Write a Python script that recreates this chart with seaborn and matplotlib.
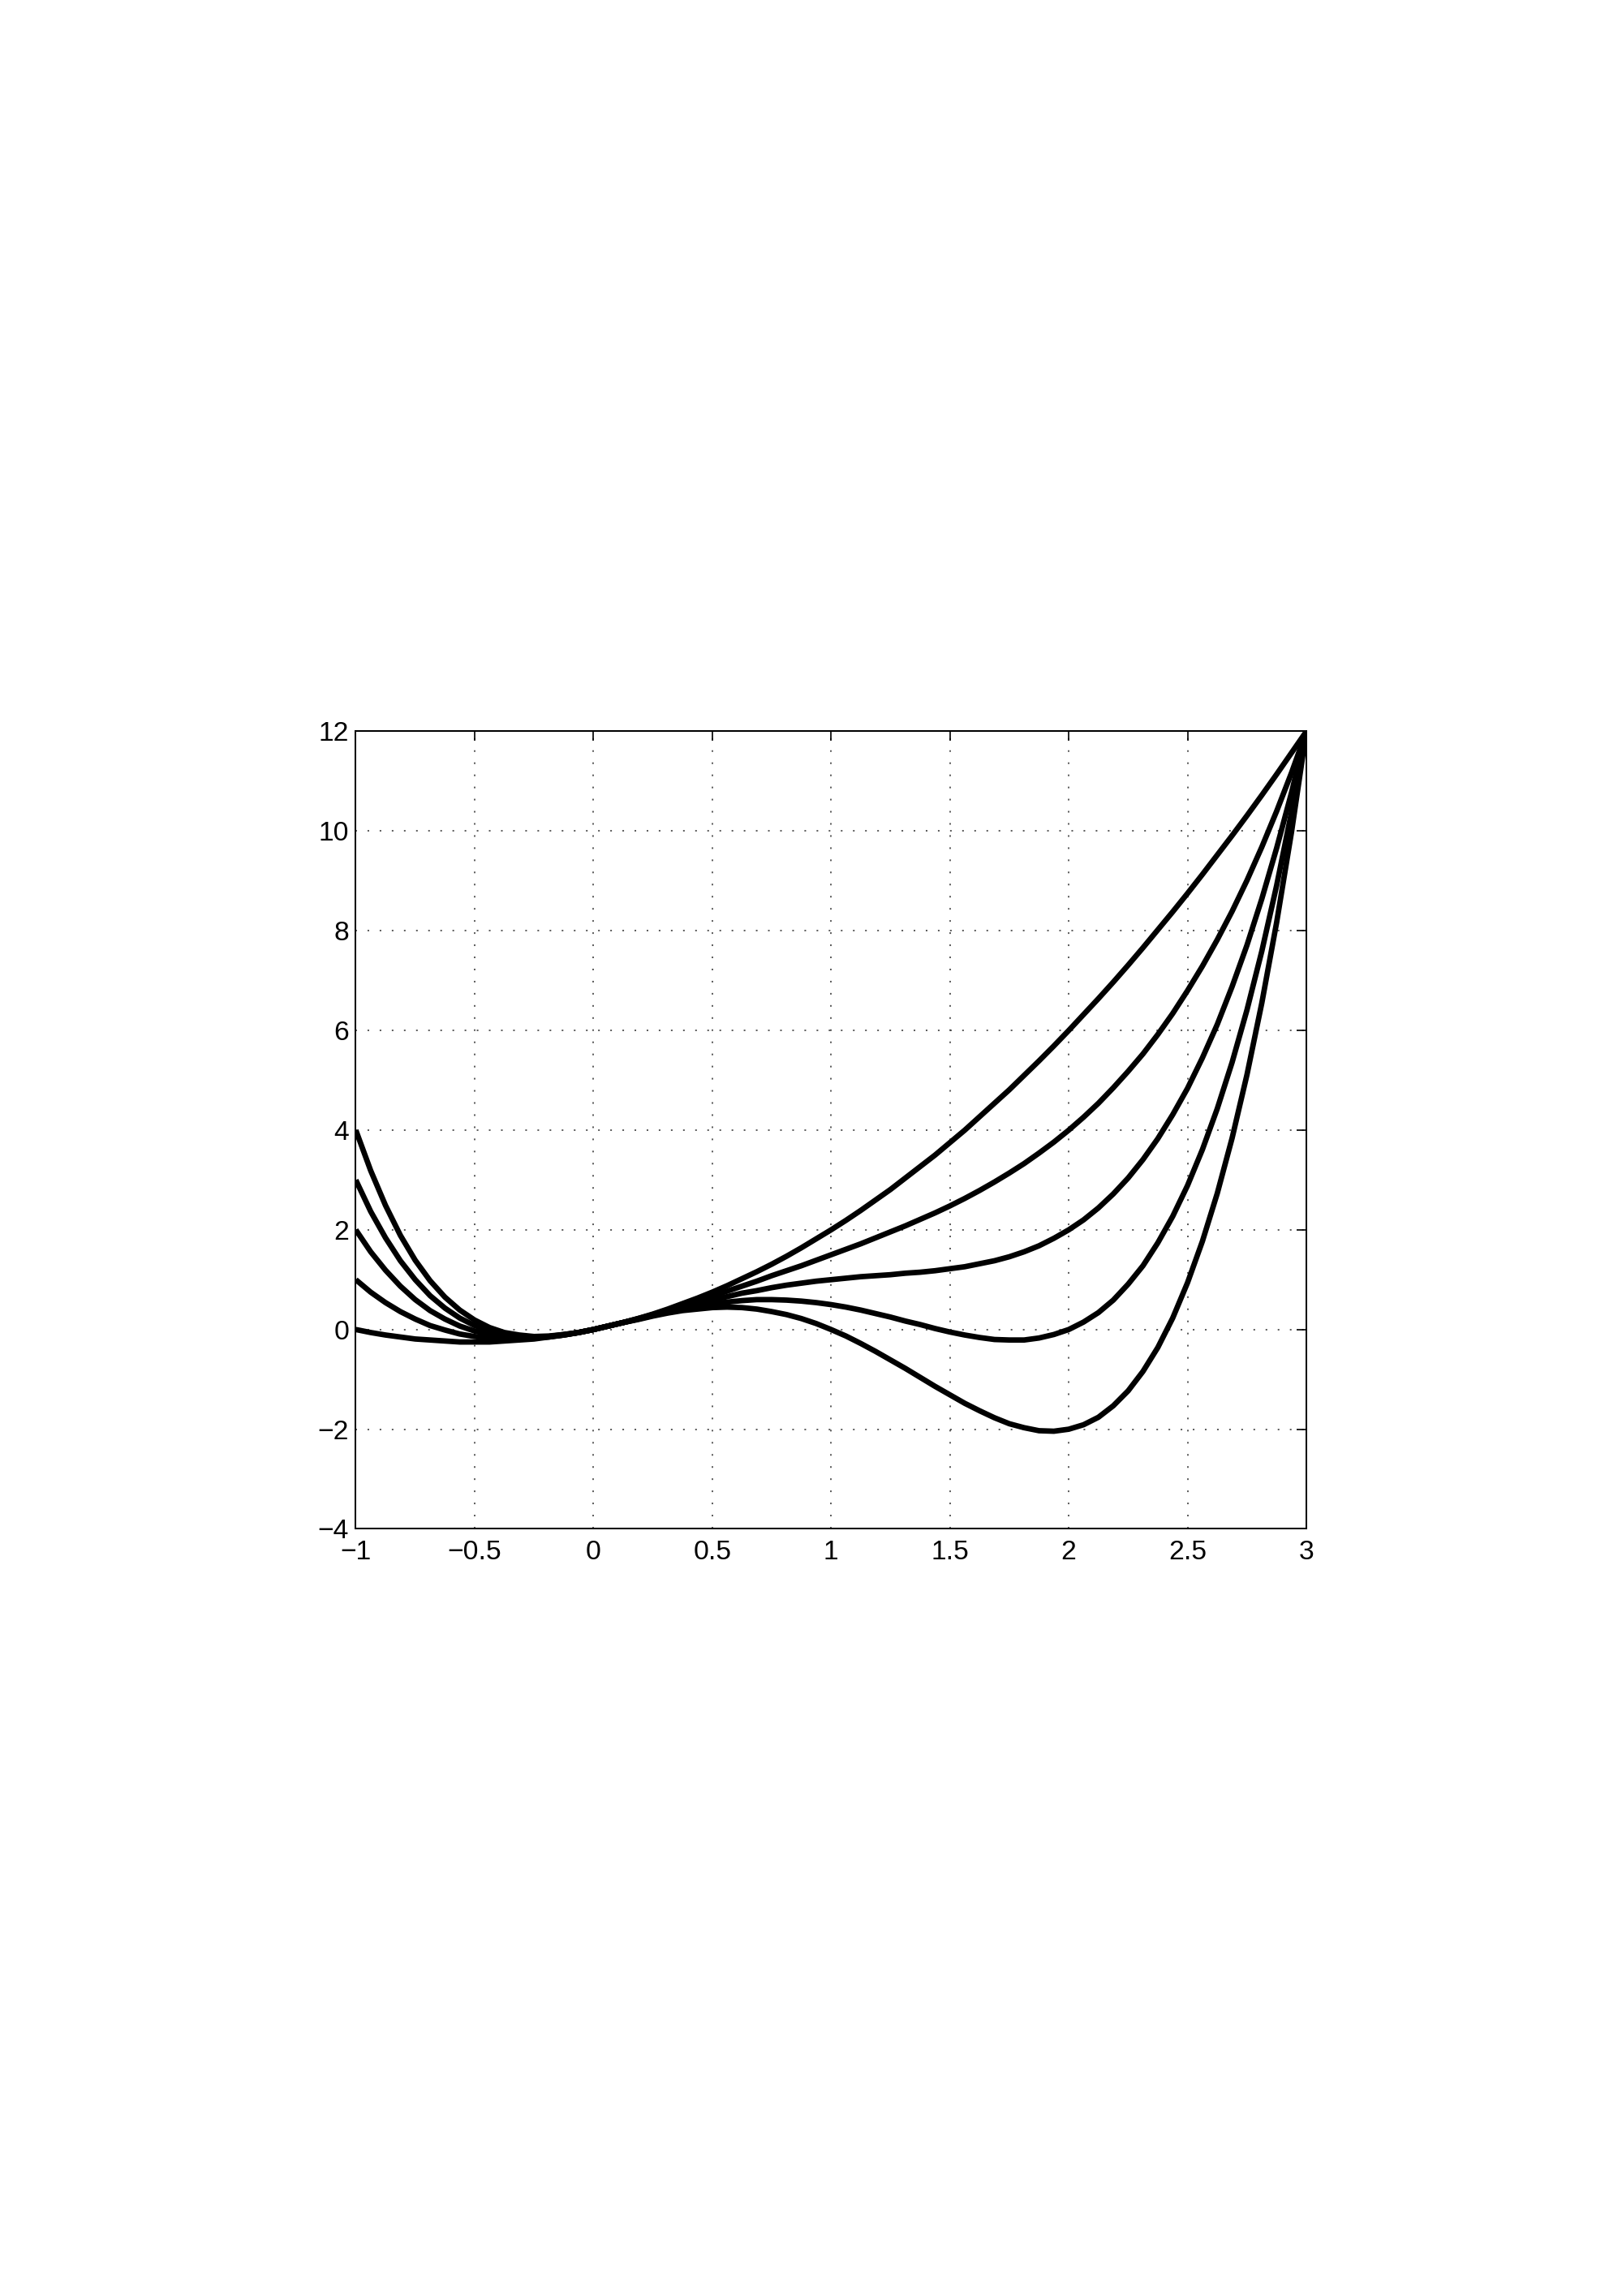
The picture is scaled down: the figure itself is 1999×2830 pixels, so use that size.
import numpy as np
import pandas as pd
import matplotlib
matplotlib.use('Agg')
import matplotlib.pyplot as plt
import seaborn as sns

x_vals = [-1.0, -0.9375, -0.875, -0.8125, -0.75, -0.6875, -0.625, -0.5625,
          -0.5, -0.4375, -0.375, -0.3125, -0.25, -0.1875, -0.125, -0.0625, 0.0,
          0.0625, 0.125, 0.1875, 0.25, 0.3125, 0.375, 0.4375,
          0.5, 0.5625, 0.625, 0.6875, 0.75, 0.8125, 0.875, 0.9375, 1.0,
          1.0625, 1.125, 1.1875, 1.25, 1.3125, 1.375, 1.4375,
          1.5, 1.5625, 1.625, 1.6875, 1.75, 1.8125, 1.875, 1.9375, 2.0,
          2.0625, 2.125, 2.1875, 2.25, 2.3125, 2.375, 2.4375,
          2.5, 2.5625, 2.625, 2.6875, 2.75, 2.8125, 2.875, 2.9375, 3.0]

curve_0 = [0.00, -0.06, -0.11, -0.15, -0.19, -0.21, -0.23, -0.25,
           -0.25, -0.25, -0.23, -0.21, -0.19, -0.15, -0.11, -0.06, 0.00,
           0.07, 0.14, 0.22, 0.31, 0.41, 0.52, 0.63,
           0.75, 0.88, 1.02, 1.16, 1.31, 1.47, 1.64, 1.82, 2.00,
           2.19, 2.39, 2.60, 2.81, 3.04, 3.27, 3.50,
           3.75, 4.00, 4.27, 4.54, 4.81, 5.10, 5.39, 5.69, 6.00,
           6.32, 6.64, 6.97, 7.31, 7.66, 8.02, 8.38,
           8.75, 9.13, 9.52, 9.91, 10.31, 10.72, 11.14, 11.57, 12.00]
curve_1 = [1.00, 0.75, 0.54, 0.36, 0.21, 0.08, -0.01, -0.09,
           -0.14, -0.17, -0.19, -0.19, -0.17, -0.15, -0.11, -0.06, 0.00,
           0.07, 0.14, 0.22, 0.30, 0.39, 0.48, 0.58,
           0.67, 0.77, 0.87, 0.97, 1.08, 1.18, 1.28, 1.39, 1.50,
           1.61, 1.72, 1.84, 1.96, 2.08, 2.21, 2.34,
           2.48, 2.63, 2.79, 2.96, 3.14, 3.33, 3.54, 3.76, 4.00,
           4.26, 4.54, 4.85, 5.18, 5.53, 5.92, 6.34,
           6.80, 7.29, 7.82, 8.39, 9.01, 9.68, 10.40, 11.17, 12.00]
curve_2 = [2.00, 1.56, 1.19, 0.87, 0.60, 0.38, 0.21, 0.07,
           -0.03, -0.10, -0.15, -0.16, -0.16, -0.14, -0.11, -0.06, 0.00,
           0.07, 0.14, 0.21, 0.29, 0.37, 0.45, 0.52,
           0.59, 0.66, 0.73, 0.78, 0.84, 0.89, 0.93, 0.97, 1.00,
           1.03, 1.06, 1.08, 1.10, 1.13, 1.15, 1.18,
           1.22, 1.26, 1.32, 1.38, 1.46, 1.56, 1.68, 1.83, 2.00,
           2.20, 2.44, 2.72, 3.04, 3.41, 3.83, 4.31,
           4.84, 5.45, 6.12, 6.88, 7.71, 8.64, 9.66, 10.77, 12.00]
curve_3 = [3.00, 2.37, 1.84, 1.38, 1.00, 0.68, 0.43, 0.23,
           0.08, -0.03, -0.10, -0.14, -0.15, -0.14, -0.10, -0.06, 0.00,
           0.07, 0.14, 0.21, 0.28, 0.35, 0.41, 0.47,
           0.52, 0.55, 0.58, 0.60, 0.60, 0.59, 0.57, 0.54, 0.50,
           0.45, 0.39, 0.32, 0.25, 0.17, 0.10, 0.02,
           -0.05, -0.11, -0.16, -0.20, -0.21, -0.21, -0.17, -0.10, 0.00,
           0.15, 0.34, 0.59, 0.91, 1.28, 1.74, 2.27,
           2.89, 3.61, 4.43, 5.36, 6.41, 7.59, 8.91, 10.38, 12.00]
curve_4 = [4.00, 3.19, 2.49, 1.89, 1.39, 0.98, 0.65, 0.39,
           0.19, 0.04, -0.06, -0.11, -0.14, -0.13, -0.10, -0.06, 0.00,
           0.07, 0.14, 0.20, 0.27, 0.33, 0.38, 0.41,
           0.44, 0.45, 0.44, 0.41, 0.36, 0.30, 0.22, 0.12, 0.00,
           -0.13, -0.28, -0.44, -0.61, -0.78, -0.96, -1.14,
           -1.31, -1.48, -1.63, -1.77, -1.89, -1.97, -2.03, -2.04, -2.00,
           -1.91, -1.76, -1.53, -1.23, -0.84, -0.36, 0.23,
           0.94, 1.77, 2.73, 3.84, 5.11, 6.55, 8.17, 9.98, 12.00]

x_ticks = [-1, -0.5, 0, 0.5, 1, 1.5, 2, 2.5, 3]
x_tick_labels = ['\u22121', '\u22120.5', '0', '0.5', '1', '1.5', '2', '2.5', '3']
y_ticks = [-4, -2, 0, 2, 4, 6, 8, 10, 12]
y_tick_labels = ['\u22124', '\u22122', '0', '2', '4', '6', '8', '10', '12']

# long table for seaborn
curves = [curve_0, curve_1, curve_2, curve_3, curve_4]
df = pd.concat([
    pd.DataFrame({'x': x_vals, 'y': c, 'curve': f'c{i}'})
    for i, c in enumerate(curves)
], ignore_index=True)

sns.set_theme(style='white')
plt.rcParams['font.family'] = ['Liberation Sans', 'DejaVu Sans']
plt.rcParams['axes.unicode_minus'] = True

DPI = 242
fig = plt.figure(figsize=(2000 / DPI, 2830 / DPI), dpi=DPI)
fig.patch.set_facecolor('white')
ax = fig.add_axes([0.21925, 0.33410, 0.58575, 0.34735])

sns.lineplot(data=df, x='x', y='y', hue='curve', estimator=None, sort=False,
             palette=['black'] * len(curves), linewidth=2.0, legend=False, ax=ax)
for line in ax.get_lines():
    line.set_solid_joinstyle('round')
    line.set_solid_capstyle('butt')

ax.set_xlim(-1, 3)
ax.set_ylim(-4, 12)
ax.set_xticks(x_ticks)
ax.set_xticklabels(x_tick_labels)
ax.set_yticks(y_ticks)
ax.set_yticklabels(y_tick_labels)
ax.set_xlabel('')
ax.set_ylabel('')

# MATLAB style: dotted grid, inward ticks on all sides, thin box
ax.grid(True, color='#404040', linestyle=(0, (1.2, 7.7)), linewidth=0.5)
ax.set_axisbelow(True)
for sp in ax.spines.values():
    sp.set_visible(True)
    sp.set_color('black')
    sp.set_linewidth(0.6)
ax.tick_params(axis='both', direction='in', length=3.5, width=0.5,
               colors='black', labelsize=10, top=True, right=True)
ax.tick_params(axis='x', pad=4)
ax.tick_params(axis='y', pad=2.5)

plt.savefig('out.png', dpi=DPI, facecolor='white')
plt.close()
